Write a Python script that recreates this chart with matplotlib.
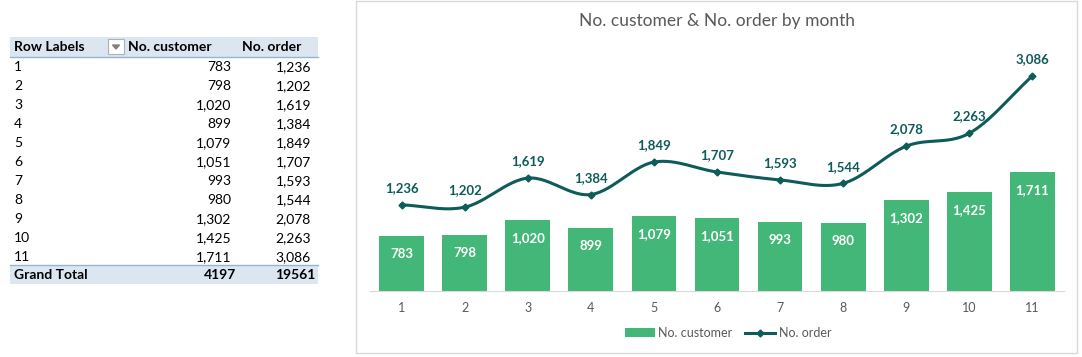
import matplotlib
matplotlib.use('Agg')
from matplotlib import pyplot as plt
from matplotlib.patches import Rectangle
from matplotlib.lines import Line2D
import numpy as np

plt.rcParams['font.family'] = ['Lato', 'DejaVu Sans']

months = [1, 2, 3, 4, 5, 6, 7, 8, 9, 10, 11]
customers = [783, 798, 1020, 899, 1079, 1051, 993, 980, 1302, 1425, 1711]
orders = [1236, 1202, 1619, 1384, 1849, 1707, 1593, 1544, 2078, 2263, 3086]
total_customers = 4197
total_orders = 19561

green = '#43B777'
teal = '#0D5C59'

W, H = 1082, 357
fig = plt.figure(figsize=(W / 100, H / 100), dpi=100)

# full-figure pixel axes for the pivot table and chart frame
bg = fig.add_axes([0, 0, 1, 1])
bg.set_xlim(0, W)
bg.set_ylim(H, 0)
bg.axis('off')

# pivot table
hdr_bg = '#DCE6F1'
bg.add_patch(Rectangle((10, 37), 308, 20, fc=hdr_bg, ec='none'))
bg.plot([10, 318], [57, 57], c='#95B3D7', lw=1)
bg.add_patch(Rectangle((10, 265), 308, 19, fc=hdr_bg, ec='none'))
bg.plot([10, 318], [265, 265], c='#95B3D7', lw=1)
bg.add_patch(Rectangle((108, 39), 16, 15, fc='white', ec='#B0B0B0', lw=0.8))
bg.fill([112.5, 119.5, 116], [45, 45, 49], c='#808080')

fs = 10
bg.text(14, 47, 'Row Labels', fontsize=fs, fontweight='bold', va='center', ha='left')
bg.text(128, 47, 'No. customer', fontsize=fs, fontweight='bold', va='center', ha='left')
bg.text(301, 47, 'No. order', fontsize=fs, fontweight='bold', va='center', ha='right')
for i, (m, c, o) in enumerate(zip(months, customers, orders)):
    y = 67 + i * 19
    bg.text(14, y, str(m), fontsize=fs, va='center', ha='left')
    bg.text(231, y, f'{c:,}', fontsize=fs, va='center', ha='right')
    bg.text(311, y, f'{o:,}', fontsize=fs, va='center', ha='right')
bg.text(14, 275, 'Grand Total', fontsize=fs, fontweight='bold', va='center', ha='left')
bg.text(236, 275, str(total_customers), fontsize=fs, fontweight='bold', va='center', ha='right')
bg.text(315, 275, str(total_orders), fontsize=fs, fontweight='bold', va='center', ha='right')

# chart frame and title
bg.add_patch(Rectangle((356, 1), 721, 352, fc='none', ec='#D9D9D9', lw=1))
bg.text(717, 21, 'No. customer & No. order by month', fontsize=12.5, color='#595959',
        ha='center', va='center')

# chart
ax = fig.add_axes([370 / W, (H - 291) / H, 694 / W, 244 / H])
x = np.array(months, dtype=float)
ax.bar(x, customers, width=0.71, color=green, zorder=2)
for xi, c in zip(x, customers):
    ax.annotate(f'{c:,}', (xi, c), xytext=(0, -13), textcoords='offset points',
                ha='center', va='center', color='white', fontweight='bold', fontsize=9.5)

# smoothed line (Catmull-Rom through the data points)
y = np.array(orders, dtype=float)
px = np.concatenate([[2 * x[0] - x[1]], x, [2 * x[-1] - x[-2]]])
py = np.concatenate([[2 * y[0] - y[1]], y, [2 * y[-1] - y[-2]]])
sx, sy = [], []
t = np.linspace(0, 1, 30)
for k in range(1, len(px) - 2):
    p0, p1, p2, p3 = py[k - 1], py[k], py[k + 1], py[k + 2]
    sy.extend(0.5 * (2 * p1 + (-p0 + p2) * t + (2 * p0 - 5 * p1 + 4 * p2 - p3) * t ** 2
                     + (-p0 + 3 * p1 - 3 * p2 + p3) * t ** 3))
    sx.extend(px[k] + (px[k + 1] - px[k]) * t)
ax.plot(sx, sy, c=teal, lw=2.2, zorder=3)
ax.plot(x, y, ls='none', marker='D', ms=3.5, c=teal, zorder=4)
for xi, o in zip(x, orders):
    ax.annotate(f'{o:,}', (xi, o), xytext=(0, 12), textcoords='offset points',
                ha='center', va='center', color=teal, fontweight='bold', fontsize=9.5)

ax.set_xlim(0.5, 11.5)
ax.set_ylim(0, 3500)
ax.set_xticks(x)
ax.set_xticklabels([str(m) for m in months], color='#595959', fontsize=9)
ax.tick_params(axis='x', length=0, pad=8)
ax.set_yticks([])
for s in ['top', 'right', 'left']:
    ax.spines[s].set_visible(False)
ax.spines['bottom'].set_color('#D9D9D9')
ax.patch.set_alpha(0)

handles = [Rectangle((0, 0), 1, 1, fc=green),
           Line2D([], [], c=teal, lw=2.2, marker='D', ms=3.5)]
fig.legend(handles, ['No. customer', 'No. order'], loc='center', bbox_to_anchor=(728 / W, 1 - 333 / H),
           ncol=2, frameon=False, fontsize=9, handlelength=2.4, columnspacing=1.0,
           handletextpad=0.3, labelcolor='#595959')

plt.savefig('out.png', dpi=100)
